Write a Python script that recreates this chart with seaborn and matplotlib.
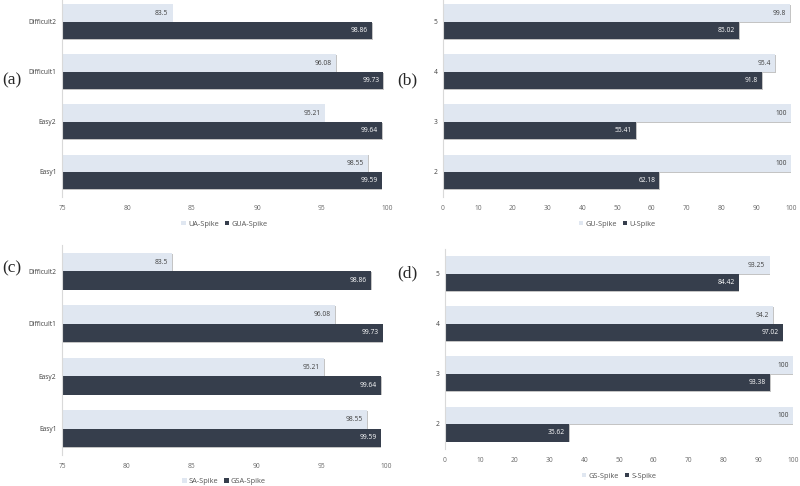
import pandas as pd
import matplotlib
matplotlib.use('Agg')
import matplotlib.pyplot as plt
import matplotlib.patheffects as pe
import seaborn as sns

# panels (a) and (c): scenario categories
cats_ac = ['Difficult2', 'Difficult1', 'Easy2', 'Easy1']
ua_spike = [83.5, 96.08, 95.21, 98.55]
gua_spike = [98.86, 99.73, 99.64, 99.59]
sa_spike = [83.5, 96.08, 95.21, 98.55]
gsa_spike = [98.86, 99.73, 99.64, 99.59]

# panels (b) and (d): numeric categories
cats_bd = ['5', '4', '3', '2']
gu_spike = [99.8, 95.4, 100, 100]
u_spike = [85.02, 91.8, 55.41, 62.18]
gs_spike = [93.25, 94.2, 100, 100]
s_spike = [84.42, 97.02, 93.38, 35.62]

light = '#dde7f4'
dark = '#333d4f'

sns.set_style('white')
plt.rcParams['font.family'] = ['Open Sans', 'DejaVu Sans']


def make_df(cats, first, second, names):
    rows = []
    for c, a, b in zip(cats, first, second):
        rows.append({'cat': c, 'value': a, 'series': names[0]})
        rows.append({'cat': c, 'value': b, 'series': names[1]})
    return pd.DataFrame(rows)


def draw_panel(ax, cats, first, second, names, xlim, xticks, tag, tag_pos, leg_y):
    df = make_df(cats, first, second, names)
    sns.barplot(data=df, y='cat', x='value', hue='series', order=cats,
                hue_order=names, palette=[light, dark], orient='h',
                width=0.7, ax=ax, errorbar=None, linewidth=0)
    ax.set_xlim(*xlim)
    ax.set_xticks(xticks)
    ax.set_xlabel('')
    ax.set_ylabel('')
    ax.tick_params(axis='x', labelsize=4.8, colors='#6a6a6a', length=0, pad=6)
    ax.tick_params(axis='y', labelsize=4.8, colors='#404040', length=0, pad=4)
    for s in ['top', 'right', 'bottom']:
        ax.spines[s].set_visible(False)
    ax.spines['left'].set_color('#d9d9d9')
    ax.spines['left'].set_linewidth(0.8)

    shadow = [pe.SimplePatchShadow(offset=(0.5, -0.6), shadow_rgbFace='#8a8a8a', alpha=0.5),
              pe.Normal()]
    for cont, col in zip(ax.containers, ['#404040', 'white']):
        for p, v in zip(cont.patches, cont.datavalues):
            p.set_path_effects(shadow)
            ax.annotate(f'{v:g}', xy=(v, p.get_y() + p.get_height() / 2),
                        xytext=(-3, 0), textcoords='offset points',
                        ha='right', va='center', fontsize=4.8, color=col)

    sns.move_legend(ax, 'upper center', bbox_to_anchor=(0.5, leg_y), ncol=2,
                    frameon=False, title=None, fontsize=5.3,
                    handlelength=0.6, handleheight=0.6, handletextpad=0.3,
                    columnspacing=0.8, labelcolor='#555555')
    fig.text(tag_pos[0], tag_pos[1], tag, fontsize=12.5, family='Liberation Serif',
             ha='left', va='center')


fig = plt.figure(figsize=(8, 4.86), dpi=100)
W, H = 800, 486


def box(l, r, t, b):
    return [l / W, 1 - b / H, (r - l) / W, (b - t) / H]


ax_a = fig.add_axes(box(62, 387, -3, 197))
ax_b = fig.add_axes(box(443, 791, -3, 197))
ax_c = fig.add_axes(box(62, 386, 245, 455))
ax_d = fig.add_axes(box(445, 793, 249, 449))

draw_panel(ax_a, cats_ac, ua_spike, gua_spike, ['UA-Spike', 'GUA-Spike'],
           (75, 100), range(75, 101, 5), '(a)', (2 / W, 1 - 80 / H), -0.085)
draw_panel(ax_b, cats_bd, gu_spike, u_spike, ['GU-Spike', 'U-Spike'],
           (0, 100), range(0, 101, 10), '(b)', (397 / W, 1 - 80 / H), -0.085)
draw_panel(ax_c, cats_ac, sa_spike, gsa_spike, ['SA-Spike', 'GSA-Spike'],
           (75, 100), range(75, 101, 5), '(c)', (2 / W, 1 - 268 / H), -0.08)
draw_panel(ax_d, cats_bd, gs_spike, s_spike, ['GS-Spike', 'S-Spike'],
           (0, 100), range(0, 101, 10), '(d)', (397 / W, 1 - 273 / H), -0.085)

fig.savefig('out.png', dpi=100, facecolor='white')
